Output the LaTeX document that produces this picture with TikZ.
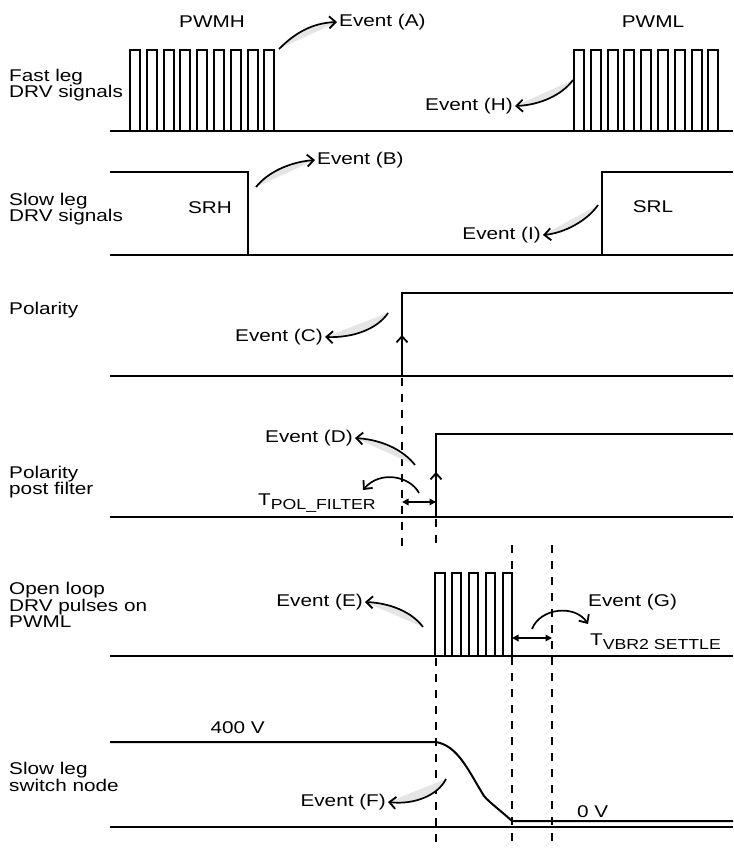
\documentclass[tikz,border=0pt]{standalone}
\usepackage{fontspec}
\setmainfont{Liberation Sans}[FakeStretch=1.22]
\usetikzlibrary{arrows.meta}

\begin{document}
\begin{tikzpicture}[
  x=1pt,y=-1pt,
  font=\fontsize{17}{16.5}\selectfont,
  sig/.style={line width=2pt},
  dsh/.style={line width=2pt,dash pattern=on 7.5pt off 8.5pt},
  evarr/.style={-{Straight Barb[length=6.5pt,width=12pt,line width=1.8pt]},line width=1.7pt},
  glow/.style={fill=black!10},
  span/.style={{Triangle[length=6.5pt,width=6.5pt]}-{Triangle[length=6.5pt,width=6.5pt]},line width=1.7pt},
  lbl/.style={anchor=west,align=left,inner sep=0pt},
  evt/.style={inner sep=2pt}
]
\useasboundingbox (0,0) rectangle (733,848);

% row labels
\node[lbl] (fastlbl) at (9,85) {Fast leg\\DRV signals};
\node[lbl] (slowlbl) at (9,209) {Slow leg\\DRV signals};
\node[lbl] (pollbl) at (9,310) {Polarity};
\node[lbl] (pflbl) at (9,482) {Polarity\\post filter};
\node[lbl] (ollbl) at (9,605) {Open loop\\DRV pulses on\\PWML};
\node[lbl] (swlbl) at (9,777) {Slow leg\\switch node};

% fast leg
\draw[sig] (110,131) -- (733,131);
\foreach \i in {0,...,8} {
  \draw[sig] ({130+16.8*\i},131) |- ({140+16.8*\i},50) -- ({140+16.8*\i},131);
  \draw[sig] ({574+16.8*\i},131) |- ({584+16.8*\i},50) -- ({584+16.8*\i},131);
}
\node (pwmh) at (212,22) {PWMH};
\node (pwml) at (653,22) {PWML};

% slow leg
\draw[sig] (110,255) -- (733,255);
\draw[sig] (110,172) -| (248,255);
\draw[sig] (602,255) |- (733,172);
\node (srh) at (210,208) {SRH};
\node (srl) at (653,207) {SRL};

% polarity
\draw[sig] (110,376) -- (733,376);
\draw[sig] (402,376) |- (733,293);
\draw[sig,-{Straight Barb[length=6pt,width=11pt,line width=1.8pt]}] (402,376) -- (402,335);

% polarity post filter
\draw[sig] (110,517) -- (733,517);
\draw[sig] (436,517) |- (733,434);
\draw[sig,-{Straight Barb[length=6pt,width=11pt,line width=1.8pt]}] (436,517) -- (436,472);

% open loop pulses
\draw[sig] (110,656) -- (733,656);
\foreach \i in {0,...,4}
  \draw[sig] ({435+16.9*\i},656) |- ({444.5+16.9*\i},573) -- ({444.5+16.9*\i},656);

% switch node
\draw[sig] (110,827) -- (733,827);
\draw[sig] (110,742) -- (436,742) .. controls (458,746) and (468,770) .. (484,796)
  .. controls (490,803) and (500,810) .. (512,821) -- (733,821);
\node[anchor=east,inner sep=0pt] (hiV) at (265,728) {400 V};
\node[anchor=west,inner sep=0pt] (loV) at (577,812) {0 V};

% timing markers
\draw[dsh] (402,378) -- (402,550);
\draw[dsh] (436,519) -- (436,550);
\draw[dsh] (436,658) -- (436,848);
\draw[dsh] (512,545) -- (512,848);
\draw[dsh] (552,545) -- (552,848);

\coordinate (pf0) at (402,502);
\coordinate (pf1) at (436,502);
\draw[span] (pf0) -- (pf1);
\coordinate (vs0) at (512,638);
\coordinate (vs1) at (552,638);
\draw[span] (vs0) -- (vs1);

\node[anchor=base west,inner sep=0pt] (tpol) at (258,505)
  {T\raisebox{-4pt}{\fontsize{14.5}{14.5}\selectfont POL\_FILTER}};
\node[anchor=base west,inner sep=0pt] (tvbr) at (590,645)
  {T\raisebox{-4pt}{\fontsize{14.5}{14.5}\selectfont VBR2 SETTLE}};

% events
\coordinate (a0) at (279,49);
\node[evt,anchor=west] (evA) at (337,22) {Event (A)};
\fill[glow] (a0) .. controls (295,33) and (312,23) .. (evA.west) -- cycle;
\draw[evarr] (a0) .. controls (295,33) and (312,23) .. (evA.west);

\coordinate (h0) at (573,80);
\node[evt,anchor=east] (evH) at (515,106) {Event (H)};
\fill[glow] (h0) .. controls (562,95) and (540,105) .. (evH.east) -- cycle;
\draw[evarr] (h0) .. controls (562,95) and (540,105) .. (evH.east);

\coordinate (b0) at (256,187);
\node[evt,anchor=west] (evB) at (315,160) {Event (B)};
\fill[glow] (b0) .. controls (268,172) and (290,162) .. (evB.west) -- cycle;
\draw[evarr] (b0) .. controls (268,172) and (290,162) .. (evB.west);

\coordinate (i0) at (598,205);
\node[evt,anchor=east] (evI) at (543,235) {Event (I)};
\fill[glow] (i0) .. controls (588,220) and (565,233) .. (evI.east) -- cycle;
\draw[evarr] (i0) .. controls (588,220) and (565,233) .. (evI.east);

\coordinate (c0) at (388,313);
\node[evt,anchor=east] (evC) at (325,337) {Event (C)};
\fill[glow] (c0) .. controls (378,328) and (355,338) .. (evC.east) -- cycle;
\draw[evarr] (c0) .. controls (378,328) and (355,338) .. (evC.east);

\coordinate (d0) at (415,465);
\node[evt,anchor=east] (evD) at (355,438) {Event (D)};
\fill[glow] (d0) .. controls (405,452) and (385,440) .. (evD.east) -- cycle;
\draw[evarr] (d0) .. controls (405,452) and (385,440) .. (evD.east);

\coordinate (tp0) at (419,493);
\coordinate (tp1) at (363,490);
\draw[evarr] (tp0) .. controls (410,476) and (380,470) .. (tp1);

\coordinate (e0) at (423,627);
\node[evt,anchor=east] (evE) at (365,602) {Event (E)};
\fill[glow] (e0) .. controls (412,612) and (390,603) .. (evE.east) -- cycle;
\draw[evarr] (e0) .. controls (412,612) and (390,603) .. (evE.east);

\coordinate (g0) at (532,629);
\coordinate (g1) at (588,624);
\node[evt,anchor=west] (evG) at (586,602) {Event (G)};
\draw[evarr] (g0) .. controls (540,608) and (575,604) .. (g1);

\coordinate (f0) at (446,779);
\node[evt,anchor=east] (evF) at (388,802) {Event (F)};
\fill[glow] (f0) .. controls (438,795) and (415,805) .. (evF.east) -- cycle;
\draw[evarr] (f0) .. controls (438,795) and (415,805) .. (evF.east);
\end{tikzpicture}
\end{document}
